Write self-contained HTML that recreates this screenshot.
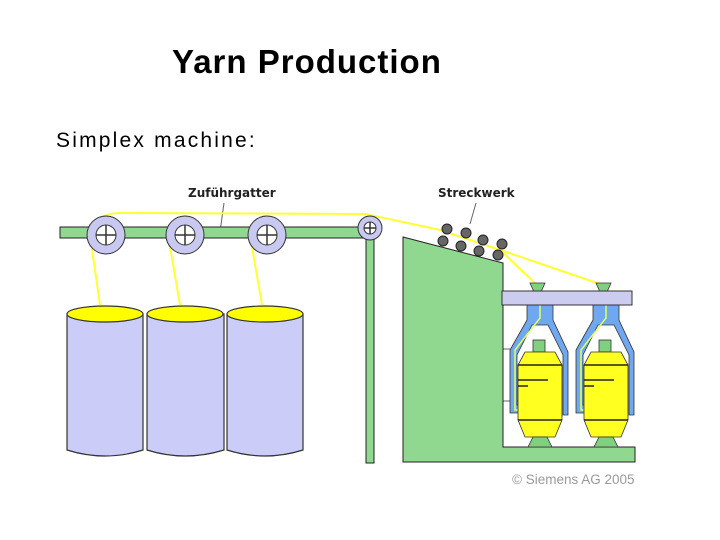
<!DOCTYPE html>
<html><head><meta charset="utf-8"><style>
body{margin:0;background:#fff;width:720px;height:540px;overflow:hidden;font-family:"Liberation Sans",sans-serif}
</style></head><body>
<svg width="720" height="540" xmlns="http://www.w3.org/2000/svg" style="position:absolute;left:0;top:0">
<text x="172" y="73" font-size="33" font-weight="bold" letter-spacing="1" font-family="Liberation Sans,sans-serif">Yarn Production</text>
<text x="56" y="147" font-size="21" letter-spacing="2.2" font-family="Liberation Sans,sans-serif">Simplex machine:</text>
<g font-family="DejaVu Sans,sans-serif" font-weight="bold" font-size="12" fill="#222">
<text x="188" y="197">Zuführgatter</text>
<text x="438" y="197">Streckwerk</text>
<text x="412" y="300">Flügelbank</text>
<text x="412" y="353">Flyerflügel</text>
<text x="412" y="405">Flyerspule</text>
</g>
<text x="512" y="484" font-size="13.5" fill="#999" font-family="Liberation Sans,sans-serif">© Siemens AG 2005</text>
<g stroke="#666" stroke-width="1">
<line x1="224" y1="203" x2="220" y2="232"/><line x1="476" y1="203" x2="470" y2="224"/>
<line x1="486" y1="296" x2="525" y2="297"/><line x1="486" y1="349" x2="510" y2="349"/><line x1="486" y1="401" x2="540" y2="401"/>
</g>
<rect x="60" y="227" width="310" height="11" fill="#90d890" stroke="#222"/>
<rect x="366" y="235" width="8" height="228" fill="#90d890" stroke="#222"/>
<g stroke="#ffff33" stroke-width="2" fill="none">
<path d="M90 228 Q100 213 120 213 L365 214 L440 230 L500 250 L537 285"/>
<path d="M500 250 L603 285"/>
<path d="M90 235 L100 305"/><path d="M168 235 L180 305"/><path d="M250 235 L262 305"/>
</g>
<g stroke="#333" stroke-width="1">
<circle cx="106" cy="235" r="19" fill="#c8c8f0"/><circle cx="106" cy="235" r="10" fill="#fff"/>
<circle cx="185" cy="235" r="19" fill="#c8c8f0"/><circle cx="185" cy="235" r="10" fill="#fff"/>
<circle cx="267" cy="235" r="19" fill="#c8c8f0"/><circle cx="267" cy="235" r="10" fill="#fff"/>
<circle cx="370" cy="228" r="12" fill="#c8c8f0"/><circle cx="370" cy="228" r="6" fill="#fff"/>
<path d="M96 235h20M106 225v20M175 235h20M185 225v20M257 235h20M267 225v20M364 228h12M370 222v12" stroke-width="1.5"/>
</g>
<g stroke="#333" stroke-width="1.2">
<path d="M67 314 V450 Q105 462 143 450 V314Z" fill="#ccccf8"/><ellipse cx="105" cy="314" rx="38" ry="8" fill="#ffff00"/>
<path d="M147 314 V450 Q185 462 224 450 V314Z" fill="#ccccf8"/><ellipse cx="185" cy="314" rx="38" ry="8" fill="#ffff00"/>
<path d="M227 314 V450 Q265 462 303 450 V314Z" fill="#ccccf8"/><ellipse cx="265" cy="314" rx="38" ry="8" fill="#ffff00"/>
</g>
<path d="M403 237 L503 263 L503 447 L635 447 L635 462 L403 462Z" fill="#90d890" stroke="#222"/>
<g fill="#666" stroke="#222">
<circle cx="447" cy="229" r="5"/><circle cx="443" cy="241" r="5"/><circle cx="466" cy="233" r="5"/><circle cx="461" cy="246" r="5"/>
<circle cx="483" cy="240" r="5"/><circle cx="479" cy="251" r="5"/><circle cx="502" cy="244" r="5"/><circle cx="498" cy="255" r="5"/>
</g>
<g id="f">
<path d="M530 283 H545 L541 292 H534Z" fill="#80d080" stroke="#333" stroke-width=".8"/>
<path d="M527 305 H553 V320 L568 352 V415 H563 V355 L548 325 H532 L517 355 V405 H525 V413 H510 V350 L527 320Z" fill="#6fa8ee" stroke="#333" stroke-width=".8"/>
<path d="M540 305 V318 L515 350 V410 H522" stroke="#e0ff60" stroke-width="1.5" fill="none"/>
<rect x="533" y="340" width="12" height="12" fill="#80d080" stroke="#333" stroke-width=".8"/>
<path d="M525 352 H555 L562 365 V420 L555 437 H525 L518 420 V365Z" fill="#ffff20" stroke="#333" stroke-width=".8"/>
<path d="M518 365h44M518 420h44M518 380h30M518 386h10" stroke="#222" stroke-width="1.5"/>
<path d="M533 437 H547 L552 447 H528Z" fill="#80d080" stroke="#333" stroke-width=".8"/>
</g>
<use href="#f" x="66"/>
<rect x="502" y="291" width="130" height="14" fill="#ccccf0" stroke="#333"/>
</svg>
</body></html>
